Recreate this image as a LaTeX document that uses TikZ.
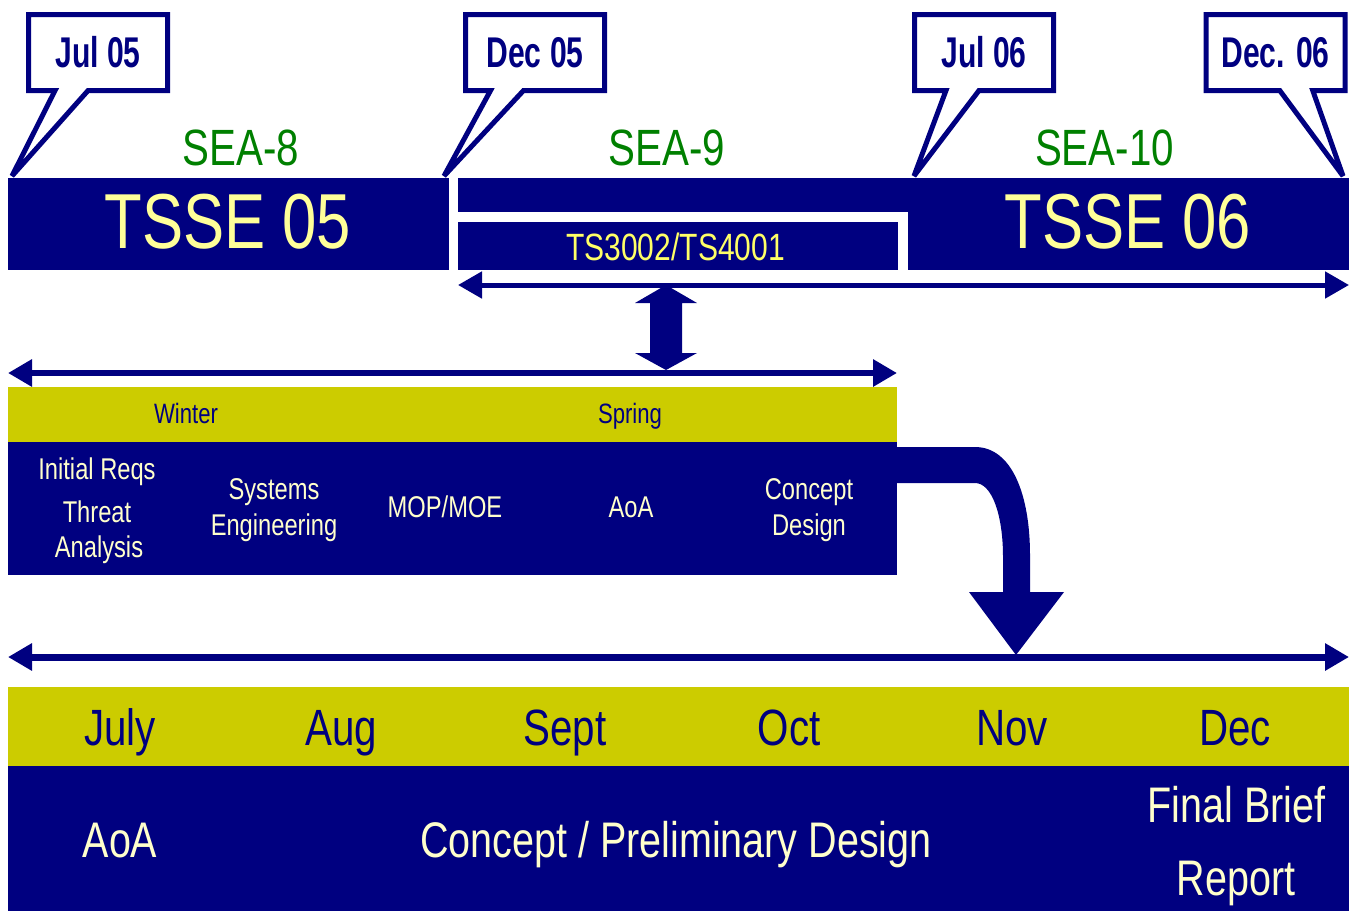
\documentclass[tikz,border=0pt]{standalone}
\usepackage{fontspec}
\setmainfont{Liberation Sans}[FakeStretch=0.79]
\newfontfamily\callfont{Liberation Sans}[FakeStretch=0.70]
\usetikzlibrary{arrows.meta,shapes.callouts}
\definecolor{mynavy}{RGB}{0,0,128}
\definecolor{myolive}{RGB}{204,204,0}
\definecolor{seagreen}{RGB}{0,128,0}
\definecolor{tsseyel}{RGB}{255,255,153}
\definecolor{tsyel}{RGB}{255,255,102}
\definecolor{cream}{RGB}{255,255,204}
\tikzset{
  fs/.style={font=\fontsize{#1}{#1}\selectfont},
  bar/.style={rectangle, fill=mynavy, draw=none, inner sep=0pt, anchor=north west},
  strip/.style={rectangle, fill=myolive, draw=none, inner sep=0pt, anchor=north west},
  lbl/.style={inner sep=0pt, anchor=base},
  bubble/.style={rectangle callout, draw=mynavy, fill=white, line width=5pt, miter limit=2,
    minimum width=139pt, minimum height=76pt, inner sep=0pt, callout pointer width=33pt,
    text=mynavy, font=\callfont\bfseries\fontsize{43}{43}\selectfont},
  tl/.style={draw=mynavy, {Triangle[length=24pt,width=26pt]}-{Triangle[length=24pt,width=26pt]}},
}
\begin{document}
\begin{tikzpicture}[x=1pt,y=1pt]
\useasboundingbox[fill=white] (0,0) rectangle (1356,-911);

% top bars
\node[bar, minimum width=441pt, minimum height=92pt] (tsse05box) at (8,-178) {};
\node[bar, minimum width=450pt, minimum height=34pt] (sea9bar) at (458,-178) {};
\node[bar, minimum width=441pt, minimum height=92pt] (tsse06box) at (908,-178) {};
\node[bar, minimum width=440pt, minimum height=48pt] (tsbox) at (458,-222) {};

\node[lbl, fs=78, text=tsseyel] (tsse05) at (228,-248) {TSSE 05};
\node[lbl, fs=78, text=tsseyel] (tsse06) at (1128,-248) {TSSE 06};
\node[lbl, fs=38, text=tsyel] (ts) at (675.5,-260) {TS3002/TS4001};

\node[lbl, fs=51, text=seagreen] (sea8) at (241,-165) {SEA-8};
\node[lbl, fs=51, text=seagreen] (sea9) at (667,-165) {SEA-9};
\node[lbl, fs=51, text=seagreen] (sea10) at (1104.5,-165) {SEA-10};

% callouts
\node[bubble, callout absolute pointer={(12,-176)}] (c1) at (98,-52.5) {Jul 05};
\node[bubble, callout absolute pointer={(444,-176)}] (c2) at (535,-52.5) {Dec 05};
\node[bubble, callout absolute pointer={(914,-176)}] (c3) at (984,-52.5) {Jul 06};
\node[bubble, callout absolute pointer={(1343,-176)}] (c4) at (1275.5,-52.5) {Dec. 06};

% arrow lines
\coordinate (t1l) at (458,-285); \coordinate (t1r) at (1349,-285);
\draw[tl, line width=5pt] (t1l) -- (t1r);
\coordinate (t2l) at (8,-373); \coordinate (t2r) at (897,-373);
\draw[tl, line width=6pt] (t2l) -- (t2r);
\coordinate (t3l) at (8,-657); \coordinate (t3r) at (1349,-657);
\draw[tl, line width=7pt] (t3l) -- (t3r);

% vertical block double arrow
\fill[mynavy] (666,-285) -- (697,-303) -- (682,-303) -- (682,-353) -- (697,-353)
  -- (666,-370) -- (635,-353) -- (650,-353) -- (650,-303) -- (635,-303) -- cycle;

% seasons
\node[strip, minimum width=889pt, minimum height=55pt] (seasons) at (8,-387) {};
\node[bar, minimum width=889pt, minimum height=133pt] (tasks) at (8,-442) {};
\node[lbl, fs=28, text=mynavy] (winter) at (186,-423) {Winter};
\node[lbl, fs=28, text=mynavy] (spring) at (630,-423) {Spring};

\node[lbl, fs=30, text=cream] (ir) at (97,-479) {Initial Reqs};
\node[lbl, fs=30, text=cream] (threat) at (97,-522) {Threat};
\node[lbl, fs=30, text=cream] (analysis) at (99,-557) {Analysis};
\node[lbl, fs=30, text=cream] (sys) at (274,-499) {Systems};
\node[lbl, fs=30, text=cream] (eng) at (274,-535) {Engineering};
\node[lbl, fs=30, text=cream] (mop) at (445,-517) {MOP/MOE};
\node[lbl, fs=30, text=cream] (aoa1) at (631,-517) {AoA};
\node[lbl, fs=30, text=cream] (cd1) at (809,-499) {Concept};
\node[lbl, fs=30, text=cream] (cd2) at (809,-535) {Design};

% curved arrow
\fill[mynavy] (897,-447) -- (975,-447) .. controls (1012,-447) and (1030,-495) .. (1030,-555)
  -- (1030,-592) -- (1064,-592) -- (1016,-655) -- (969,-592) -- (1003,-592) -- (1003,-557)
  .. controls (1003,-515) and (992,-483) .. (975,-483) -- (897,-483) -- cycle;

% months
\node[strip, minimum width=1341pt, minimum height=79pt] (months) at (8,-687) {};
\node[bar, minimum width=1341pt, minimum height=145pt] (phases) at (8,-766) {};
\node[lbl, fs=51, text=mynavy] (jul) at (120,-745) {July};
\node[lbl, fs=51, text=mynavy] (aug) at (341,-745) {Aug};
\node[lbl, fs=51, text=mynavy] (sep) at (565,-745) {Sept};
\node[lbl, fs=51, text=mynavy] (oct) at (789,-745) {Oct};
\node[lbl, fs=51, text=mynavy] (nov) at (1012,-745) {Nov};
\node[lbl, fs=51, text=mynavy] (dec) at (1235,-745) {Dec};

\node[lbl, fs=50, text=cream] (aoa2) at (120,-857) {AoA};
\node[lbl, fs=50, text=cream] (cpd) at (676,-857) {Concept / Preliminary Design};
\node[lbl, fs=50, text=cream] (fb) at (1236.5,-822) {Final Brief};
\node[lbl, fs=50, text=cream] (rep) at (1236,-895) {Report};
\end{tikzpicture}
\end{document}
